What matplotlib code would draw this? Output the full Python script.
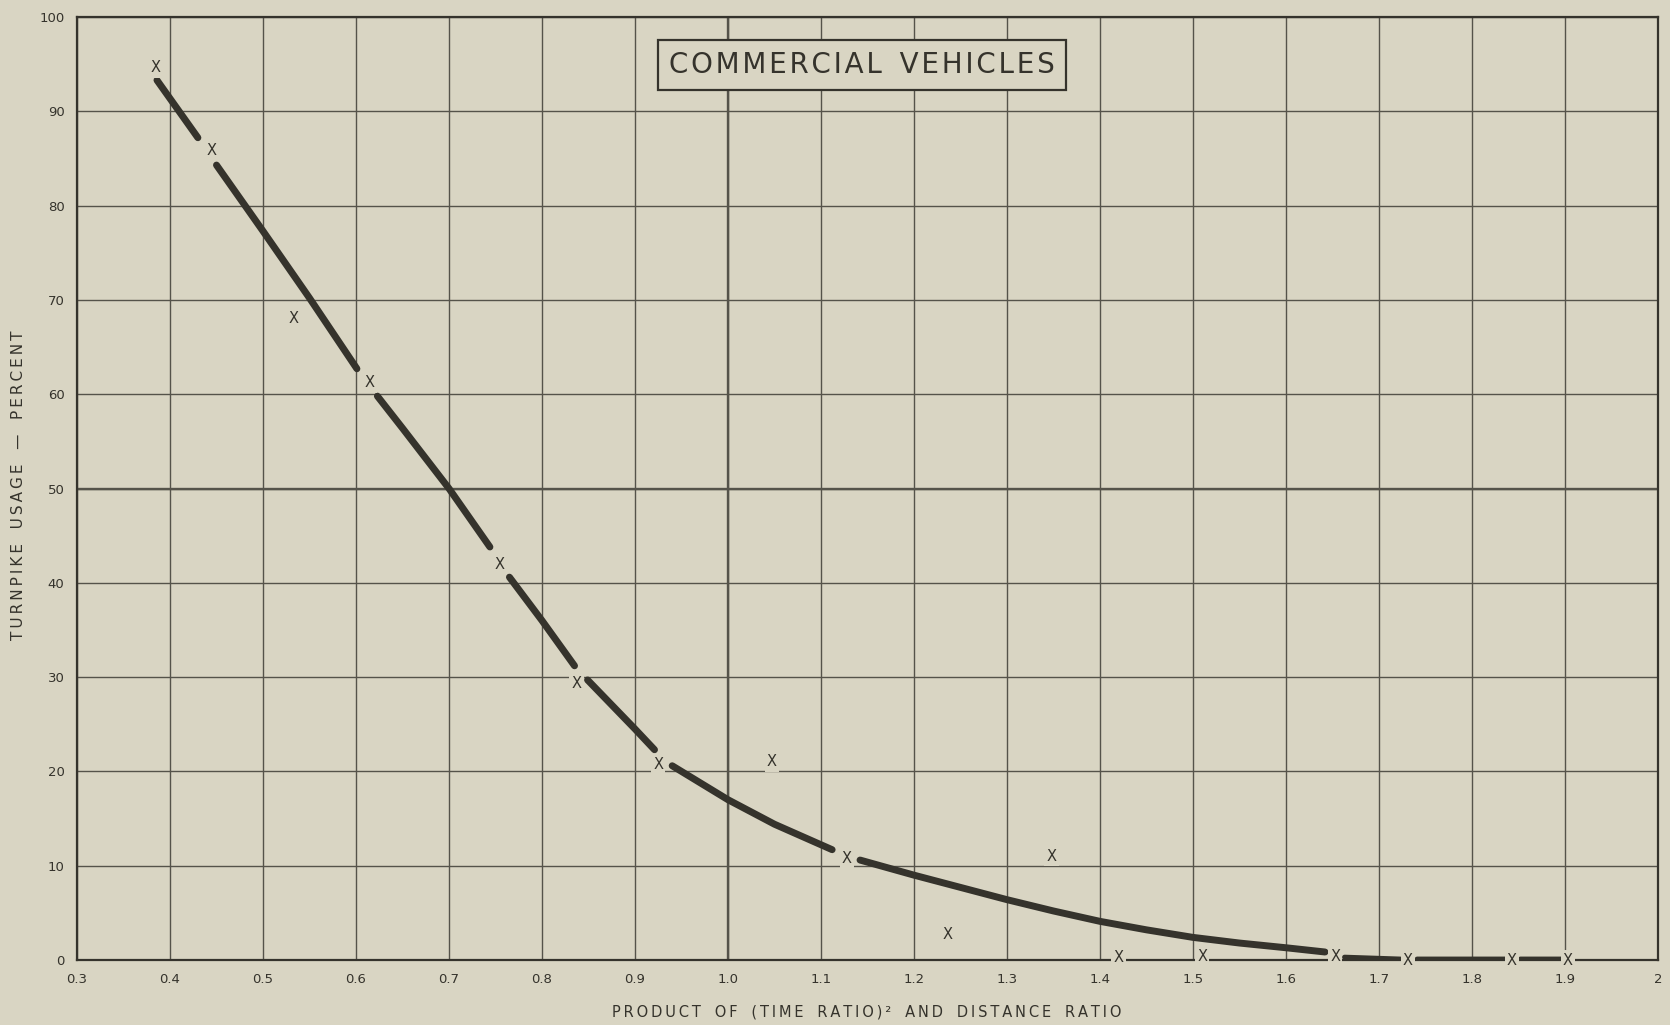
import numpy as np
import matplotlib
matplotlib.use("Agg")
import matplotlib.pyplot as plt

PAPER = "#d9d5c3"
INK = "#35332c"
GRID = "#55534a"

# observed points (drawn as lettered X's on the original sheet)
obs_x = [0.384, 0.445, 0.533, 0.615, 0.754, 0.837, 0.925, 1.047, 1.128,
         1.236, 1.348, 1.420, 1.510, 1.653, 1.731, 1.843, 1.903]
obs_y = [94.6, 85.8, 68.0, 61.2, 41.9, 29.3, 20.7, 21.0, 10.8,
         2.7, 11.0, 0.3, 0.4, 0.4, 0.0, 0.0, 0.0]

# fitted curve, broken by hand at each point (nan = break)
curve_x = [0.386, 0.430, np.nan,
           0.450, 0.500, 0.550, 0.601, np.nan,
           0.623, 0.650, 0.700, 0.744, np.nan,
           0.765, 0.800, 0.835, np.nan,
           0.849, 0.900, 0.921, np.nan,
           0.940, 0.970, 1.000, 1.050, 1.112, np.nan,
           1.142, 1.200, 1.250, 1.300, 1.350, 1.400, 1.450, 1.500, 1.550, 1.600, 1.642]
curve_y = [93.3, 87.2, np.nan,
           84.3, 77.3, 70.2, 62.7, np.nan,
           59.8, 56.4, 50.0, 43.8, np.nan,
           40.6, 36.0, 31.2, np.nan,
           29.7, 24.5, 22.3, np.nan,
           20.6, 18.8, 17.0, 14.4, 11.7, np.nan,
           10.6, 9.0, 7.7, 6.4, 5.2, 4.1, 3.2, 2.4, 1.8, 1.3, 0.85]

# flat tail along zero
tail_x = [1.663, 1.723, np.nan, 1.741, 1.836, np.nan, 1.852, 1.897]
tail_y = [0.3, 0.1, np.nan, 0.1, 0.1, np.nan, 0.1, 0.1]

x_ticks = [0.3, 0.4, 0.5, 0.6, 0.7, 0.8, 0.9, 1.0, 1.1, 1.2, 1.3, 1.4,
           1.5, 1.6, 1.7, 1.8, 1.9, 2.0]
x_tick_labels = ["0.3", "0.4", "0.5", "0.6", "0.7", "0.8", "0.9", "1.0", "1.1",
                 "1.2", "1.3", "1.4", "1.5", "1.6", "1.7", "1.8", "1.9", "2"]
y_ticks = [0, 10, 20, 30, 40, 50, 60, 70, 80, 90, 100]
y_tick_labels = ["0", "10", "20", "30", "40", "50", "60", "70", "80", "90", "100"]


def spaced(s, gap="\u2009"):
    # hand lettering is widely tracked; fake it with thin spaces
    return gap.join(s)


fig = plt.figure(figsize=(16.7, 10.25), dpi=100, facecolor=PAPER)
ax = fig.add_axes([0.0461, 0.0634, 0.9467, 0.920], facecolor=PAPER)

ax.set_xlim(0.3, 2.0)
ax.set_ylim(0, 100)
ax.set_xticks(x_ticks)
ax.set_xticklabels(x_tick_labels)
ax.set_yticks(y_ticks)
ax.set_yticklabels(y_tick_labels)
ax.tick_params(length=0, labelsize=9.5, colors=INK, pad=9)
ax.grid(True, color=GRID, linewidth=1.0, zorder=1)
ax.set_axisbelow(True)
# heavier rulings
ax.axvline(1.0, color=GRID, linewidth=1.7, zorder=1)
ax.axhline(50, color=GRID, linewidth=1.7, zorder=1)
for s in ax.spines.values():
    s.set_color(INK)
    s.set_linewidth(1.6)

ax.plot(curve_x, curve_y, color=INK, linewidth=5.0, solid_capstyle="round", zorder=2)
ax.plot(tail_x, tail_y, color=INK, linewidth=3.6, solid_capstyle="round", zorder=2)

for x, y in zip(obs_x, obs_y):
    ax.text(x, y, "X", ha="center", va="center", fontsize=10.5, color=INK, zorder=4,
            bbox=dict(boxstyle="square,pad=0.15", facecolor=PAPER, edgecolor="none"))

ax.text(1.144, 94.9, spaced("COMMERCIAL", "\u200a") + "  " + spaced("VEHICLES", "\u200a"),
        ha="center", va="center", fontsize=20, color=INK, zorder=5,
        bbox=dict(boxstyle="square,pad=0.4", facecolor=PAPER, edgecolor=INK, linewidth=1.6))

fig.text(0.519, 0.013,
         "   ".join(spaced(w) for w in ["PRODUCT", "OF", "(TIME", "RATIO)²", "AND", "DISTANCE", "RATIO"]),
         ha="center", va="center", fontsize=10.5, color=INK)
fig.text(0.011, 0.527,
         "   ".join(spaced(w) for w in ["TURNPIKE", "USAGE", "—", "PERCENT"]),
         rotation=90, ha="center", va="center", fontsize=11, color=INK)

fig.savefig("out.png", dpi=100, facecolor=PAPER)
